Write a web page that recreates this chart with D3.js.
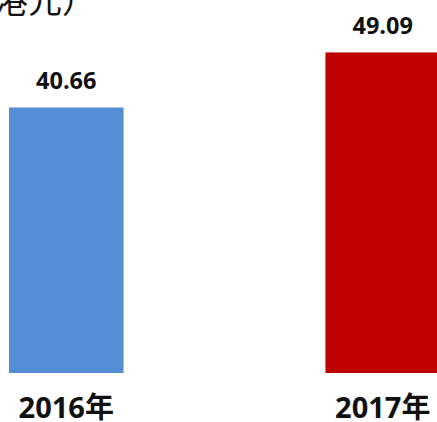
<!DOCTYPE html>
<html>
<head>
<meta charset="utf-8">
<script src="https://cdn.jsdelivr.net/npm/d3@7"></script>
<style>
  body { margin: 0; background: #fff; }
</style>
</head>
<body>
<div id="chart"></div>
<script>
// data
var years = ["2016年", "2017年"];
var values = [40.66, 49.09];
var colors = ["#558ED5", "#C00000"];
var unitLabel = "港元）";

var w = 437, h = 422;
var baseline = 373;

var svg = d3.select("#chart").append("svg")
    .attr("width", w)
    .attr("height", h);

var x = d3.scaleBand()
    .domain(years)
    .range([9, 440])
    .paddingInner(0.638)
    .paddingOuter(0);

var y = d3.scaleLinear()
    .domain([0, 50])
    .range([baseline, baseline - 326.5]);

// bars
svg.selectAll("rect.bar")
    .data(values)
    .enter()
    .append("rect")
    .attr("class", "bar")
    .attr("x", function(d, i) { return x(years[i]); })
    .attr("y", function(d) { return y(d); })
    .attr("width", x.bandwidth())
    .attr("height", function(d) { return y(0) - y(d); })
    .attr("fill", function(d, i) { return colors[i]; });

// value labels
svg.selectAll("text.val")
    .data(values)
    .enter()
    .append("text")
    .attr("class", "val")
    .text(function(d) { return d3.format(".2f")(d); })
    .attr("x", function(d, i) { return x(years[i]) + x.bandwidth() / 2; })
    .attr("y", function(d) { return y(d) - 18; })
    .attr("text-anchor", "middle")
    .attr("font-family", "'Open Sans', 'Noto Sans CJK SC', sans-serif")
    .attr("font-weight", "bold")
    .attr("font-size", "23.5px")
    .attr("fill", "#111");

// category axis (no line, just labels)
var xAxis = d3.axisBottom(x).tickSize(0).tickPadding(0);
var gx = svg.append("g")
    .attr("transform", "translate(0," + baseline + ")")
    .call(xAxis);
gx.select(".domain").remove();
gx.selectAll("text")
    .attr("dy", null)
    .attr("y", 45)
    .attr("font-family", "'Open Sans', 'Noto Sans CJK SC', sans-serif")
    .attr("font-weight", "bold")
    .attr("font-size", "29px")
    .attr("fill", "#111");

// unit label, cut off at the top left
svg.append("text")
    .text(unitLabel)
    .attr("x", -6)
    .attr("y", 13)
    .attr("font-family", "'Noto Sans CJK SC', sans-serif")
    .attr("font-size", "34px")
    .attr("fill", "#111");
</script>
</body>
</html>
